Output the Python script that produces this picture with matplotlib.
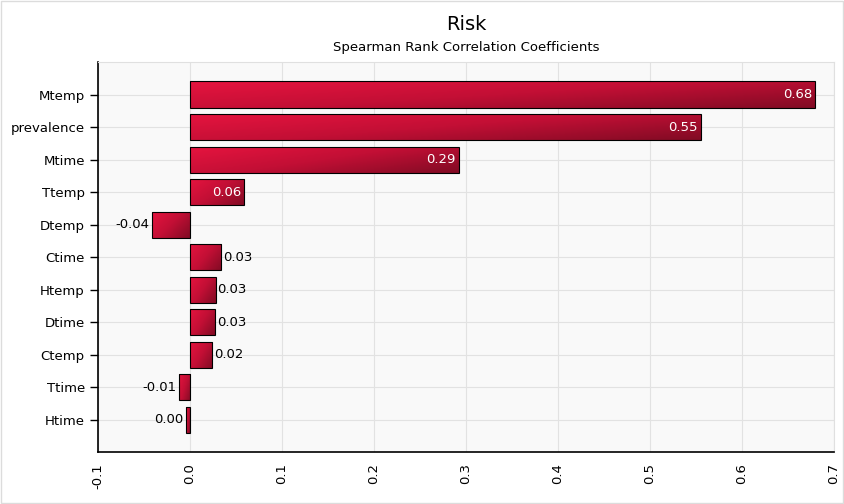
from matplotlib import pyplot as plt
from matplotlib.colors import LinearSegmentedColormap
import numpy as np

plt.rc("figure", dpi=100)

# Data, top to bottom as in the chart
factors = ["Mtemp", "prevalence", "Mtime", "Ttemp", "Dtemp", "Ctime",
           "Htemp", "Dtime", "Ctemp", "Ttime", "Htime"]
coeffs = [0.679, 0.555, 0.292, 0.059, -0.041, 0.034,
          0.028, 0.027, 0.024, -0.012, -0.004]
value_labels = ["0.68", "0.55", "0.29", "0.06", "-0.04", "0.03",
                "0.03", "0.03", "0.02", "-0.01", "0.00"]
x_ticks = [-0.1, 0.0, 0.1, 0.2, 0.3, 0.4, 0.5, 0.6, 0.7]

bar_cmap = LinearSegmentedColormap.from_list(
    "risk", ["#e6143f", "#c20f35", "#820b24"])

fig = plt.figure(figsize=(8.45, 5.04))
ax = fig.add_axes([0.116, 0.103, 0.871, 0.774])
ax.set_facecolor("#f9f9f9")

pos = np.arange(len(factors))[::-1]
bars = ax.barh(pos, coeffs, height=0.8, facecolor="none",
               edgecolor="black", linewidth=0.8, zorder=3)

# diagonal gradient inside every bar
gx, gy = np.meshgrid(np.linspace(0, 1, 100), np.linspace(0, 1, 30))
grad = 0.6 * gx + 0.4 * gy
for b in bars:
    x0, y0 = b.get_x(), b.get_y()
    w, h = b.get_width(), b.get_height()
    xl, xr = min(x0, x0 + w), max(x0, x0 + w)
    im = ax.imshow(grad, extent=[xl, xr, y0, y0 + h], aspect="auto",
                   cmap=bar_cmap, vmin=0, vmax=1, zorder=2,
                   interpolation="bilinear")
    im.set_clip_path(b)

for p, v, lab in zip(pos, coeffs, value_labels):
    if v >= 0.05:
        ax.text(v - 0.003, p, lab, ha="right", va="center",
                color="white", fontsize=9.5, zorder=4)
    elif v >= 0:
        ax.text(v + 0.002, p, lab, ha="left", va="center",
                color="black", fontsize=9.5, zorder=4)
    else:
        ax.text(v - 0.003, p, lab, ha="right", va="center",
                color="black", fontsize=9.5, zorder=4)

ax.set_xlim(-0.1, 0.7)
ax.set_ylim(-1, len(factors))
ax.set_xticks(x_ticks)
ax.set_xticklabels([f"{t:.1f}" for t in x_ticks], rotation=90, fontsize=9.5)
ax.set_yticks(pos)
ax.set_yticklabels(factors, fontsize=9.5)
ax.tick_params(axis="x", length=0, pad=8)
ax.tick_params(axis="y", length=6, width=1)
ax.grid(True, color="#e2e2e2", linewidth=0.8, zorder=0)
ax.set_axisbelow(True)

for s in ["top", "right"]:
    ax.spines[s].set_color("#e0e0e0")
for s in ["left", "bottom"]:
    ax.spines[s].set_color("black")
    ax.spines[s].set_linewidth(1.2)

fig.text(0.552, 0.952, "Risk", ha="center", va="center", fontsize=14)
fig.text(0.552, 0.905, "Spearman Rank Correlation Coefficients",
         ha="center", va="center", fontsize=9.5)

# light frame around the figure
fig.patches.append(plt.Rectangle((0.001, 0.001), 0.997, 0.997,
                                 transform=fig.transFigure, fill=False,
                                 edgecolor="#dcdcdc", linewidth=1))

plt.savefig("out.png")
